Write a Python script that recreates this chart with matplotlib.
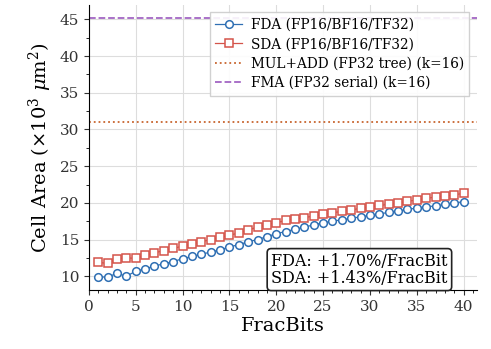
import matplotlib
matplotlib.use("Agg")
import matplotlib.pyplot as plt
from matplotlib.ticker import MultipleLocator

frac_bits = list(range(1, 41))
fda_area = [9.9, 9.9, 10.4, 10.0, 10.7, 11.0, 11.4, 11.7, 12.0, 12.4,
            12.7, 13.0, 13.3, 13.6, 14.0, 14.3, 14.7, 15.0, 15.4, 15.8,
            16.1, 16.4, 16.7, 17.0, 17.3, 17.5, 17.7, 17.9, 18.1, 18.3,
            18.5, 18.7, 18.9, 19.1, 19.3, 19.45, 19.6, 19.8, 20.0, 20.15]
sda_area = [11.9, 11.75, 12.4, 12.5, 12.45, 12.85, 13.2, 13.5, 13.8, 14.1,
            14.4, 14.7, 15.0, 15.3, 15.6, 15.9, 16.3, 16.7, 17.0, 17.3,
            17.6, 17.8, 18.0, 18.2, 18.45, 18.65, 18.85, 19.05, 19.25, 19.45,
            19.65, 19.8, 20.0, 20.2, 20.4, 20.6, 20.8, 20.95, 21.1, 21.3]
muladd_area = 31.0
fma_area = 45.2
slope_text = "FDA: +1.70%/FracBit\nSDA: +1.43%/FracBit"

plt.rcParams["font.family"] = "DejaVu Serif"
plt.rcParams["mathtext.fontset"] = "dejavuserif"

fig = plt.figure(figsize=(4.91, 3.49), dpi=100)
ax = fig.add_axes([0.181, 0.169, 0.790, 0.817])

ax.plot(frac_bits, fda_area, "-o", color="#2f6fb3", mfc="white", mec="#2f6fb3",
        ms=5.5, mew=1.1, lw=0.9, label="FDA (FP16/BF16/TF32)")
ax.plot(frac_bits, sda_area, "-s", color="#d4544a", mfc="white", mec="#d4544a",
        ms=5.5, mew=1.1, lw=0.9, label="SDA (FP16/BF16/TF32)")
ax.axhline(muladd_area, color="#c8652e", ls=":", lw=1.3,
           label="MUL+ADD (FP32 tree) (k=16)")
ax.axhline(fma_area, color="#a366c4", ls="--", lw=1.3,
           label="FMA (FP32 serial) (k=16)")

ax.set_xlim(0, 41.4)
ax.set_ylim(8.13, 46.97)
ax.xaxis.set_major_locator(MultipleLocator(5))
ax.xaxis.set_minor_locator(MultipleLocator(1))
ax.yaxis.set_major_locator(MultipleLocator(5))
ax.yaxis.set_minor_locator(MultipleLocator(2.5))
ax.tick_params(labelsize=11, colors="#333333", labelcolor="#333333")
ax.grid(True, which="major", color="#dddddd", lw=0.8)
ax.set_axisbelow(True)
for s in ("top", "right"):
    ax.spines[s].set_visible(False)

ax.set_xlabel("FracBits", fontsize=14, labelpad=2)
ax.set_ylabel(r"Cell Area ($\times10^3$ $\mu$m$^2$)", fontsize=14)

ax.legend(loc="upper right", fontsize=9.8, framealpha=0.9, edgecolor="#cccccc",
          fancybox=False, borderaxespad=0.55, handlelength=2.0,
          handletextpad=0.6, labelspacing=0.4)

ax.text(0.925, 0.012, slope_text, transform=ax.transAxes, ha="right", va="bottom",
        fontsize=11.5, linespacing=1.0, zorder=5,
        bbox=dict(boxstyle="round,pad=0.25", fc="white", ec="#222222", lw=1.2))

fig.savefig("out.png", dpi=100)
